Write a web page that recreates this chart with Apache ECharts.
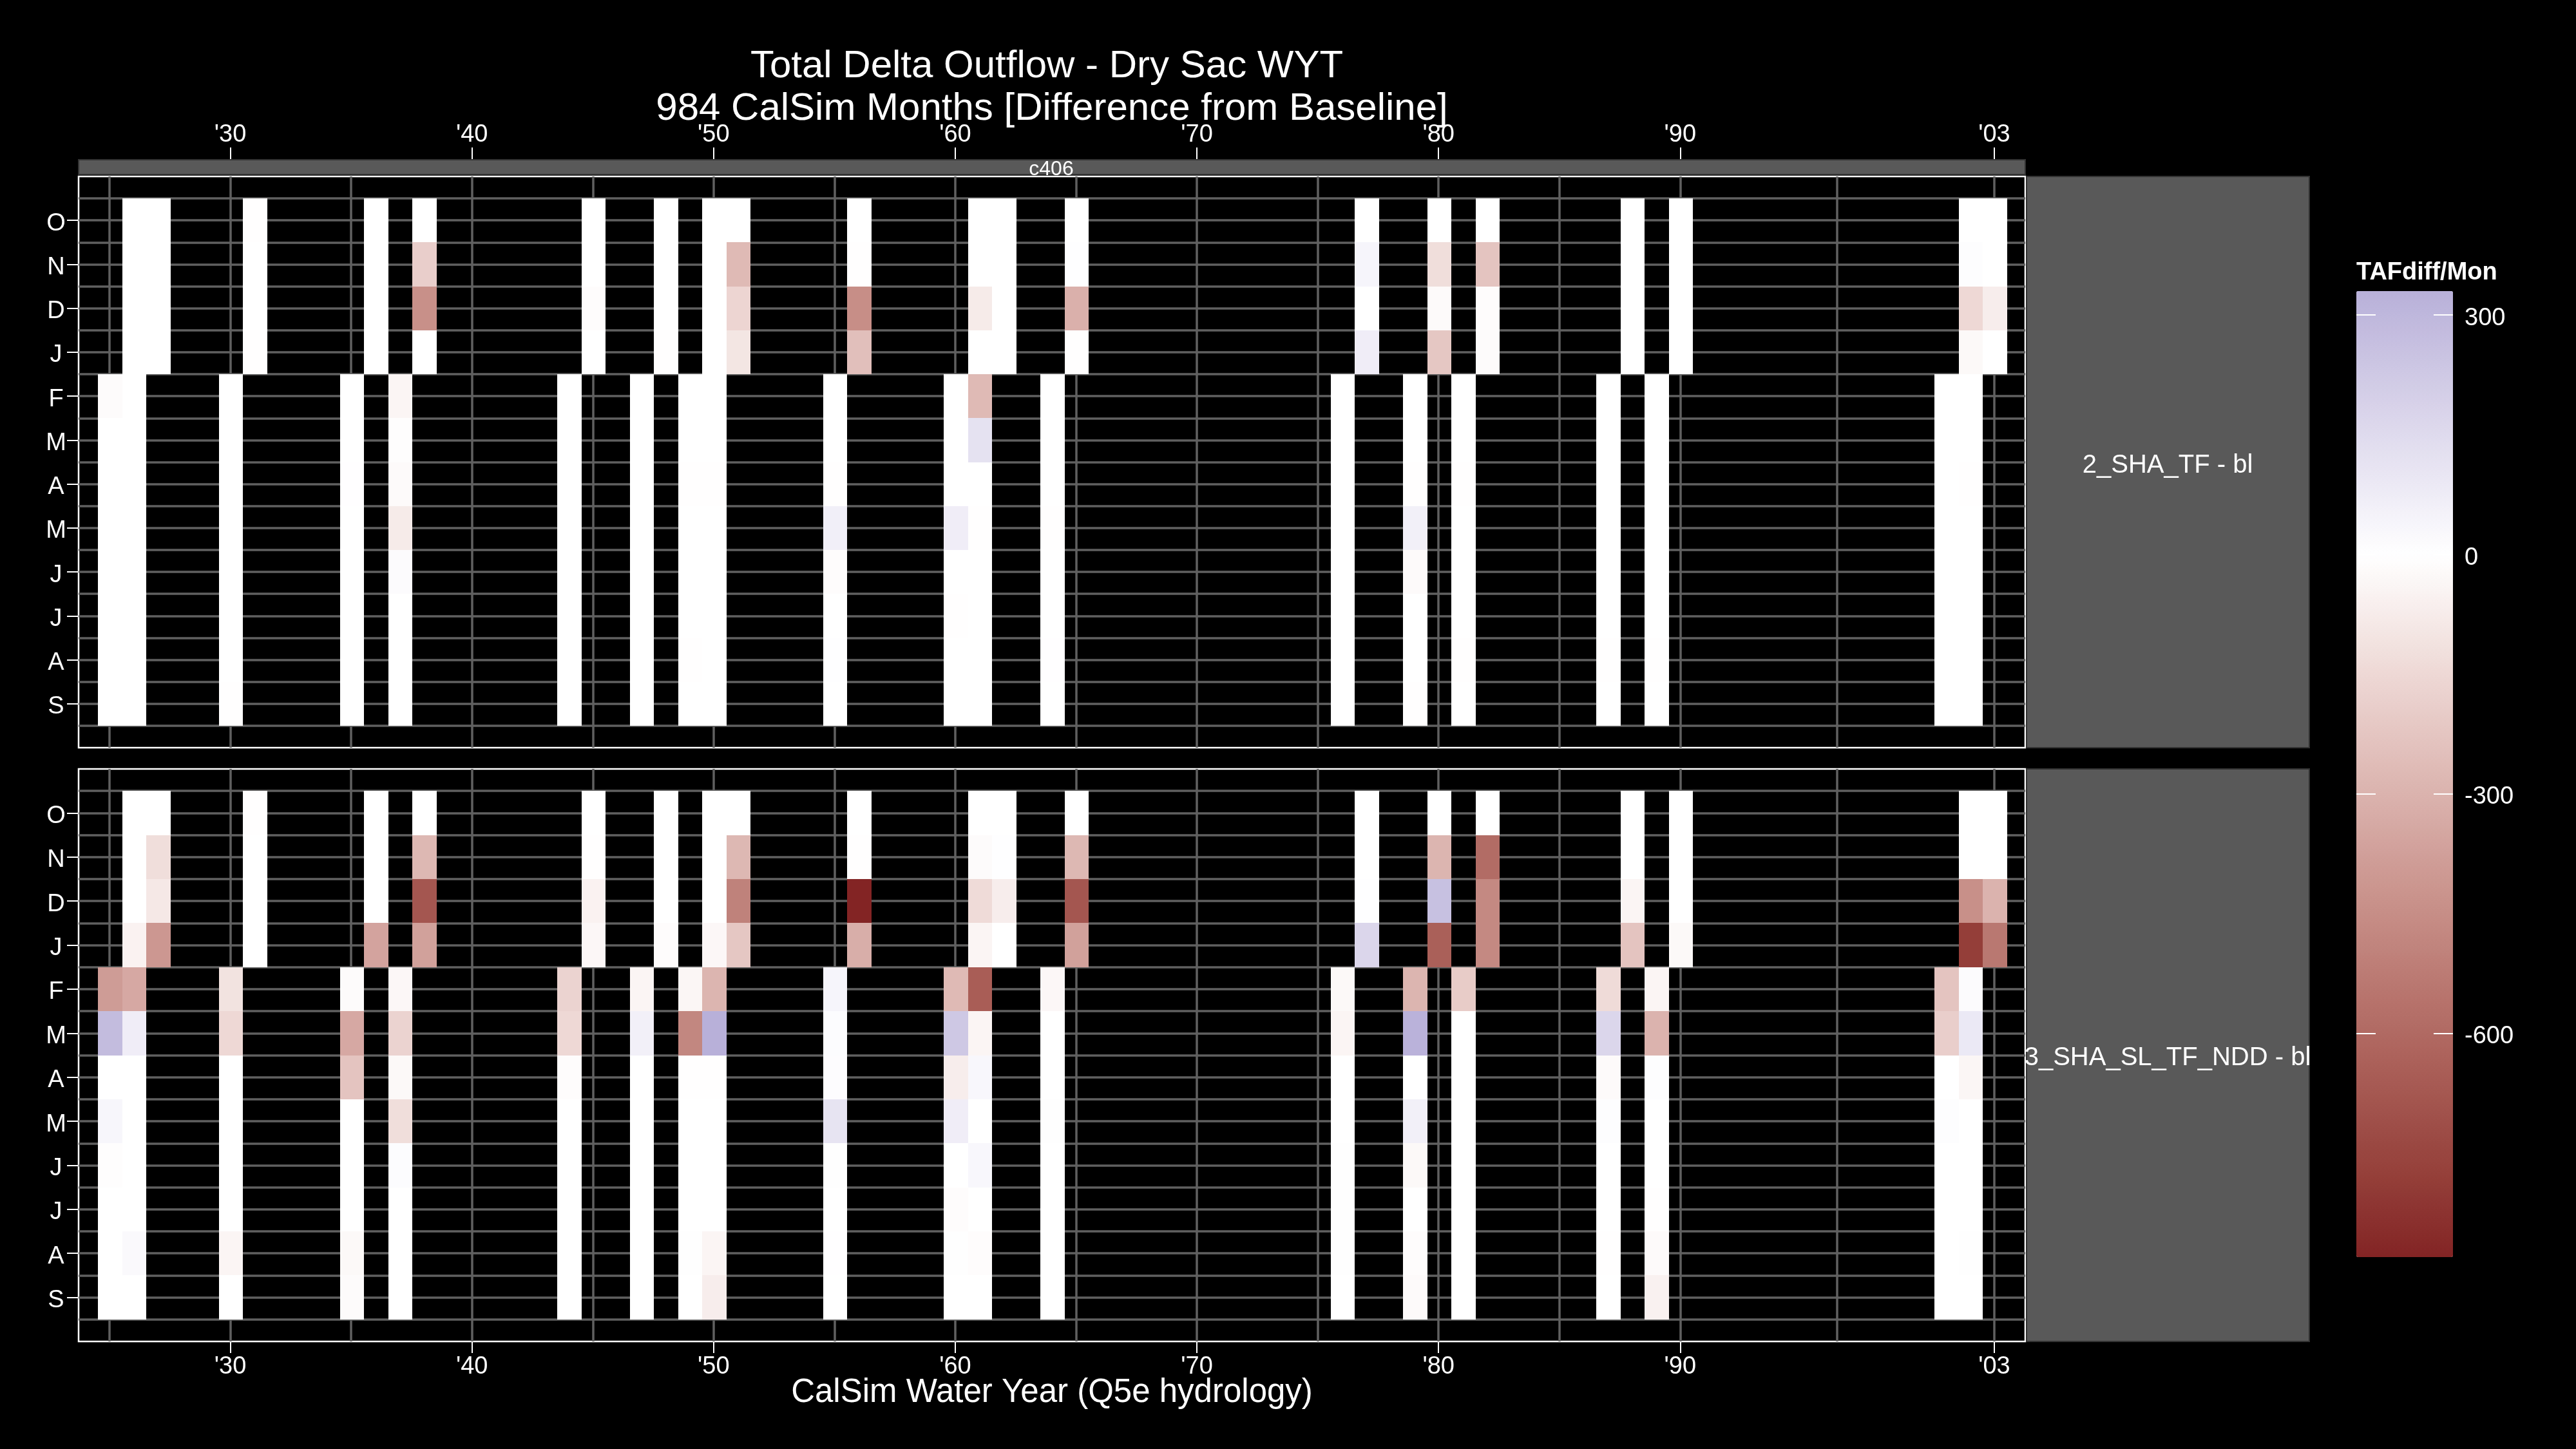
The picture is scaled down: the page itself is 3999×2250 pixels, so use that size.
<!DOCTYPE html>
<html><head><meta charset="utf-8">
<style>html,body{margin:0;padding:0;background:#000}#c{width:3999px;height:2250px}</style>
<script src="https://cdn.jsdelivr.net/npm/echarts@6/dist/echarts.min.js"></script>
</head><body><div id="c"></div>
<script>
const monthLabels = ['O','N','D','J','F','M','A','M','J','J','A','S'];
const yearTicks = [1930,1940,1950,1960,1970,1980,1990,2003];
const yearGrid = [1925,1930,1935,1940,1945,1950,1955,1960,1965,1970,1975,1980,1985,1990,1996.5,2003];
const legendTicks = [300,0,-300,-600];
const dryYears = [1925,1926,1930,1935,1937,1944,1947,1949,1950,1955,1960,1961,1964,1976,1979,1981,1987,1989,2001,2002];
// each row: O N D J F M A M J J A S for one dry water year (TAF difference per month)
const deltaSHA_TF = [
 [0,0,0,0,-15,0,0,0,0,0,0,0],
 [0,0,0,0,0,0,-1,0,0,0,0,0],
 [-3,0,0,-3,0,0,0,0,0,0,-1,-2],
 [0,0,0,0,0,0,2,0,0,0,0,0],
 [0,-190,-440,0,-40,-8,-20,-80,15,0,0,0],
 [0,0,-10,0,0,0,-1,0,0,0,-1,0],
 [0,0,0,-4,0,0,0,0,0,0,0,0],
 [0,0,0,0,0,0,-3,0,0,0,-3,0],
 [0,-270,-160,-100,0,0,-2,0,0,0,0,0],
 [0,-3,-450,-250,0,0,-2,65,-12,0,3,0],
 [0,0,-80,0,0,0,0,70,0,-3,0,0],
 [0,0,0,0,-270,120,0,-2,0,0,0,0],
 [0,3,-310,-3,0,0,0,-2,0,0,2,0],
 [0,40,0,70,0,0,0,0,0,0,0,0],
 [0,-130,-20,-220,0,0,-3,60,-20,0,0,-3],
 [0,-230,-10,-15,0,0,-2,0,0,0,-2,0],
 [0,0,0,0,0,0,0,0,0,0,-4,0],
 [0,0,0,0,0,0,0,0,0,0,-2,0],
 [0,8,-150,-25,0,0,0,0,0,0,0,0],
 [0,0,-70,0,0,0,-3,0,0,0,0,0]
];
const deltaSHA_SL_TF_NDD = [
 [0,0,0,-50,-390,280,0,35,-8,0,0,0],
 [0,-130,-90,-410,-340,70,0,0,0,0,25,0],
 [-3,0,0,0,-110,-150,0,0,0,0,-40,0],
 [0,0,0,-360,-15,-340,-230,0,0,0,-25,-15],
 [0,-280,-680,-370,-30,-170,-25,-130,12,0,0,0],
 [0,-4,-50,-30,-170,-150,-12,0,0,0,0,0],
 [0,0,0,-10,-40,60,0,0,0,0,0,0],
 [0,0,0,-30,-35,-480,-4,0,0,0,-5,0],
 [0,-280,-500,-220,-290,370,-3,0,0,0,-40,-70],
 [0,-3,-880,-320,40,12,10,110,5,0,2,0],
 [0,-15,-140,-40,-270,230,-70,70,0,-10,5,0],
 [0,3,-70,0,-650,-40,30,0,30,0,-10,0],
 [0,-280,-680,-370,-30,0,0,-5,0,0,0,0],
 [0,0,3,170,-25,-40,0,0,5,-5,5,0],
 [0,-290,260,-640,-290,320,0,60,-25,0,-10,-20],
 [0,-590,-470,-470,-200,0,0,0,0,0,0,0],
 [0,0,-40,-230,-140,170,-20,8,0,0,-3,0],
 [0,0,0,-25,-40,-300,8,0,0,-2,-20,-55],
 [0,0,-440,-780,-230,-190,0,8,0,0,0,0],
 [0,0,-300,-540,15,90,-35,0,0,0,-5,0]
];

const FONT = '"Liberation Sans", Arial, sans-serif';
const LOW = '#832424', HIGH = '#3A3A98';
const VMIN = -880, VMAX = 330, FULL = 880;

// Lab mixing of the diverging colour ramp (style only)
function rgb2lab(h){
  const c=[1,3,5].map(i=>parseInt(h.substr(i,2),16)/255).map(v=>v>.04045?Math.pow((v+.055)/1.055,2.4):v/12.92);
  const X=(c[0]*.4124+c[1]*.3576+c[2]*.1805)/.95047,Y=c[0]*.2126+c[1]*.7152+c[2]*.0722,Z=(c[0]*.0193+c[1]*.1192+c[2]*.9505)/1.08883;
  const f=t=>t>.008856?Math.cbrt(t):7.787*t+16/116;
  return [116*f(Y)-16,500*(f(X)-f(Y)),200*(f(Y)-f(Z))];
}
function lab2hex(l){
  const fy=(l[0]+16)/116,fx=l[1]/500+fy,fz=fy-l[2]/200;
  const g=t=>t*t*t>.008856?t*t*t:(t-16/116)/7.787;
  const X=g(fx)*.95047,Y=g(fy),Z=g(fz)*1.08883;
  const lin=[3.2406*X-1.5372*Y-.4986*Z,-.9689*X+1.8758*Y+.0415*Z,.0557*X-.204*Y+1.057*Z];
  return '#'+lin.map(v=>{v=v>.0031308?1.055*Math.pow(v,1/2.4)-.055:12.92*v;v=Math.max(0,Math.min(1,v));return Math.round(v*255).toString(16).padStart(2,'0');}).join('');
}
const labW=rgb2lab('#ffffff'),labL=rgb2lab(LOW),labH=rgb2lab(HIGH);
const rampColors=[];
for(let v=VMIN;v<=VMAX;v+=55){
  const t=Math.abs(v)/FULL,e=v<0?labL:labH;
  rampColors.push(lab2hex(labW.map((a,i)=>a+(e[i]-a)*t)));
}

// O,N,D,J of a water year sit one column to the right of F..S
function cells(matrix){
  const out=[];
  matrix.forEach((row,i)=>row.forEach((val,m)=>{
    out.push([dryYears[i]+(m<4?1:0),m+1,val]);
  }));
  return out;
}
function renderCell(params,api){
  const x=api.value(0),y=api.value(1);
  const a=api.coord([x-.47,y-.5]),b=api.coord([x+.53,y+.5]);
  const x0=Math.round(a[0]),x1=Math.round(b[0]),y0=Math.round(Math.min(a[1],b[1])),y1=Math.round(Math.max(a[1],b[1]));
  return {type:'rect',shape:{x:x0,y:y0,width:x1-x0,height:y1-y0},style:{fill:api.visual('color')}};
}

const XMIN=1923.72,XMAX=2004.28;
const GRID='#606060',WHITE='#ffffff';
const yGridVals=[];for(let k=.5;k<=12.5;k+=.5)yGridVals.push(k);
const yTickVals=monthLabels.map((m,i)=>i+1);

const xLabelAxis=(g,pos,margin,extra)=>Object.assign({type:'value',gridIndex:g,position:pos,min:XMIN,max:XMAX,
  axisLine:{show:false,onZero:false},splitLine:{show:false},
  axisTick:{show:true,length:18,lineStyle:{color:WHITE,width:2},customValues:yearTicks},
  axisLabel:{show:true,customValues:yearTicks,color:WHITE,fontFamily:FONT,fontSize:38,margin:margin,
    formatter:v=>"'"+String(v).slice(-2)}},extra||{});
const xGridAxis=g=>({type:'value',gridIndex:g,min:XMIN,max:XMAX,position:'bottom',
  axisLine:{show:false,onZero:false},axisLabel:{show:false},axisTick:{show:false,customValues:yearGrid},
  splitLine:{show:true,lineStyle:{color:GRID,width:3.5}}});
const yLabelAxis=g=>({type:'value',gridIndex:g,inverse:true,min:0,max:13,position:'left',
  axisLine:{show:false,onZero:false},splitLine:{show:false},
  axisTick:{show:true,length:18,lineStyle:{color:WHITE,width:2},customValues:yTickVals},
  axisLabel:{show:true,customValues:yTickVals,align:'center',margin:35,color:WHITE,fontFamily:FONT,fontSize:38,
    verticalAlign:'top',lineHeight:10,formatter:v=>monthLabels[v-1]}});
const yGridAxis=g=>({type:'value',gridIndex:g,inverse:true,min:0,max:13,position:'left',
  axisLine:{show:false,onZero:false},axisLabel:{show:false},axisTick:{show:false,customValues:yGridVals},
  splitLine:{show:true,lineStyle:{color:GRID,width:3.5}}});

const legendAxis=(pos,labels)=>({type:'value',gridIndex:2,position:pos,min:VMIN,max:VMAX,z:10,
  axisLine:{show:false,onZero:false},splitLine:{show:false},
  axisTick:{show:true,inside:true,length:30,lineStyle:{color:WHITE,width:2},customValues:legendTicks},
  axisLabel:{show:labels,customValues:legendTicks,color:WHITE,fontFamily:FONT,fontSize:38,margin:18,
    verticalAlign:'top',lineHeight:10}});

const titleStyle={color:WHITE,fontFamily:FONT,fontSize:60,fontWeight:'normal'};
const stripText=(t,x,y,s)=>({type:'text',x,y,z:5,style:{text:t,fill:WHITE,font:s+'px '+FONT,textAlign:'center',textVerticalAlign:'middle'}});
const stripRect=(x,y,w,h)=>({type:'rect',z:1,shape:{x,y,width:w,height:h},style:{fill:'#595959',stroke:'#333333',lineWidth:2}});

const chart=echarts.init(document.getElementById('c'),null,{renderer:'canvas',width:3999,height:2250});
chart.setOption({
  animation:false,
  backgroundColor:'#000000',
  title:[
    {text:'Total Delta Outflow - Dry Sac WYT',left:1625,top:73,padding:0,textAlign:'center',textStyle:titleStyle},
    {text:'984 CalSim Months [Difference from Baseline]',left:1633,top:139,padding:0,textAlign:'center',textStyle:titleStyle}
  ],
  grid:[
    {left:122,top:274,width:3022,height:887,show:true,backgroundColor:'#000',borderColor:WHITE,borderWidth:2.5},
    {left:122,top:1194,width:3022,height:889,show:true,backgroundColor:'#000',borderColor:WHITE,borderWidth:2.5},
    {left:3658,top:452,width:150,height:1500,show:false}
  ],
  xAxis:[
    xLabelAxis(0,'top',18,{offset:27}),
    xGridAxis(0),
    xLabelAxis(1,'bottom',21,{name:'CalSim Water Year (Q5e hydrology)',nameLocation:'middle',nameGap:54,nameMoveOverlap:false,
      nameTextStyle:{color:WHITE,fontFamily:FONT,fontSize:51}}),
    xGridAxis(1),
    {type:'value',gridIndex:2,show:false,min:0,max:1}
  ],
  yAxis:[
    yLabelAxis(0),yGridAxis(0),yLabelAxis(1),yGridAxis(1),
    legendAxis('right',true),legendAxis('left',false)
  ],
  visualMap:{type:'continuous',show:true,seriesIndex:[0,1],dimension:2,min:VMIN,max:VMAX,
    left:3658,top:452,padding:0,itemWidth:150,itemHeight:1500,calculable:false,realtime:false,
    showLabel:false,text:null,hoverLink:false,inRange:{color:rampColors},z:4},
  graphic:{elements:[
    stripRect(122,248,3022,23),
    stripRect(3146,274,439,887),
    stripRect(3146,1194,439,889),
    stripText('c406',1632,263,32),
    stripText('2_SHA_TF - bl',3365,723,40),
    stripText('3_SHA_SL_TF_NDD - bl',3365,1643,40),
    {type:'text',x:3658,y:424,z:5,style:{text:'TAFdiff/Mon',fill:WHITE,font:'bold 38px '+FONT,textAlign:'left',textVerticalAlign:'middle'}}
  ]},
  series:[
    {name:'2_SHA_TF - bl',type:'custom',xAxisIndex:0,yAxisIndex:0,data:cells(deltaSHA_TF),
     encode:{x:0,y:1},renderItem:renderCell,silent:true,clip:false},
    {name:'3_SHA_SL_TF_NDD - bl',type:'custom',xAxisIndex:2,yAxisIndex:2,data:cells(deltaSHA_SL_TF_NDD),
     encode:{x:0,y:1},renderItem:renderCell,silent:true,clip:false}
  ]
});
</script></body></html>
